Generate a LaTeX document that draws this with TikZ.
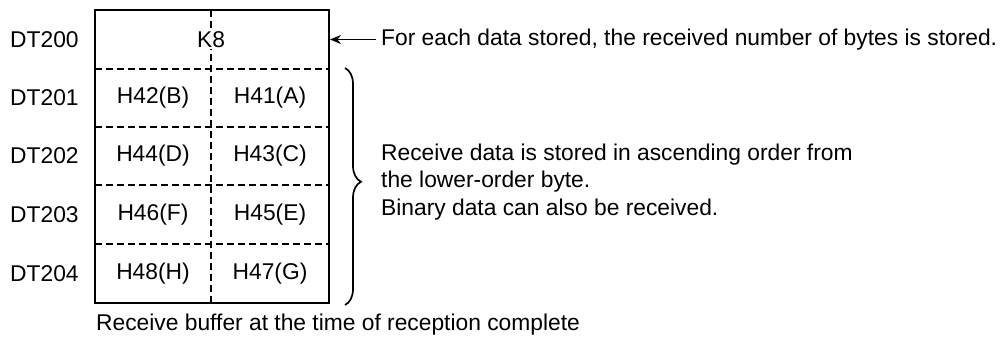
\documentclass[tikz,border=0pt]{standalone}
\usepackage{fontspec}
\setmainfont{Liberation Sans}
\usetikzlibrary{arrows.meta,decorations.pathreplacing}
\begin{document}
\begin{tikzpicture}[x=1pt,y=-1pt,
  txt/.style={font=\fontsize{22.8}{27.5}\selectfont, inner sep=0pt},
  solidline/.style={line width=1.8pt},
  dashline/.style={line width=2pt, dash pattern=on 7pt off 4pt},
  lbl/.style={txt, anchor=west},
  cell/.style={txt, fill=white, inner sep=1pt}]
\useasboundingbox (0,0) rectangle (1008,337);
% box corners
\coordinate (tl) at (95,10);
\coordinate (br) at (329,303);
\coordinate (mt) at (211,10);
\coordinate (mb) at (211,303);
% horizontal dashed separators
\foreach \y/\n in {69/a,127/b,185/c,244/d}{
  \coordinate (L\n) at (95,\y);
  \coordinate (R\n) at (329,\y);
  \draw[dashline] (L\n) -- (R\n);
}
\draw[dashline] (mt) -- (mb);
\draw[solidline] (tl) rectangle (br);
% cells
\node[cell] (k8) at (211,39.5) {K8};
\node[cell] (c1l) at (153,98) {H42(B)};
\node[cell] (c1r) at (270,98) {H41(A)};
\node[cell] (c2l) at (153,156) {H44(D)};
\node[cell] (c2r) at (270,156) {H43(C)};
\node[cell] (c3l) at (153,214.5) {H46(F)};
\node[cell] (c3r) at (270,214.5) {H45(E)};
\node[cell] (c4l) at (153,273.5) {H48(H)};
\node[cell] (c4r) at (270,273.5) {H47(G)};
% row labels
\node[lbl] (d0) at (10,39.5) {DT200};
\node[lbl] (d1) at (10,98) {DT201};
\node[lbl] (d2) at (10,156) {DT202};
\node[lbl] (d3) at (10,214.5) {DT203};
\node[lbl] (d4) at (10,273.5) {DT204};
% top annotation
\node[lbl] (note1) at (381,39.5) {For each data stored, the received number of bytes is stored.};
\coordinate (arrend) at (330,39.5);
\draw[solidline,-{Stealth[length=11pt,width=9pt]}, shorten <=5pt] (note1.west) -- (arrend);
% brace
\coordinate (bt) at (345,68);
\coordinate (bb) at (345,305);
\draw[line width=1.7pt, decorate, decoration={brace, amplitude=16pt, aspect=0.48}] (bt) -- (bb);
\node[txt, anchor=west, align=left] (note2) at (381,182)
  {Receive data is stored in ascending order from\\the lower-order byte.\\Binary data can also be received.};
% caption
\node[lbl] (cap) at (96,325) {Receive buffer at the time of reception complete};
\end{tikzpicture}
\end{document}
